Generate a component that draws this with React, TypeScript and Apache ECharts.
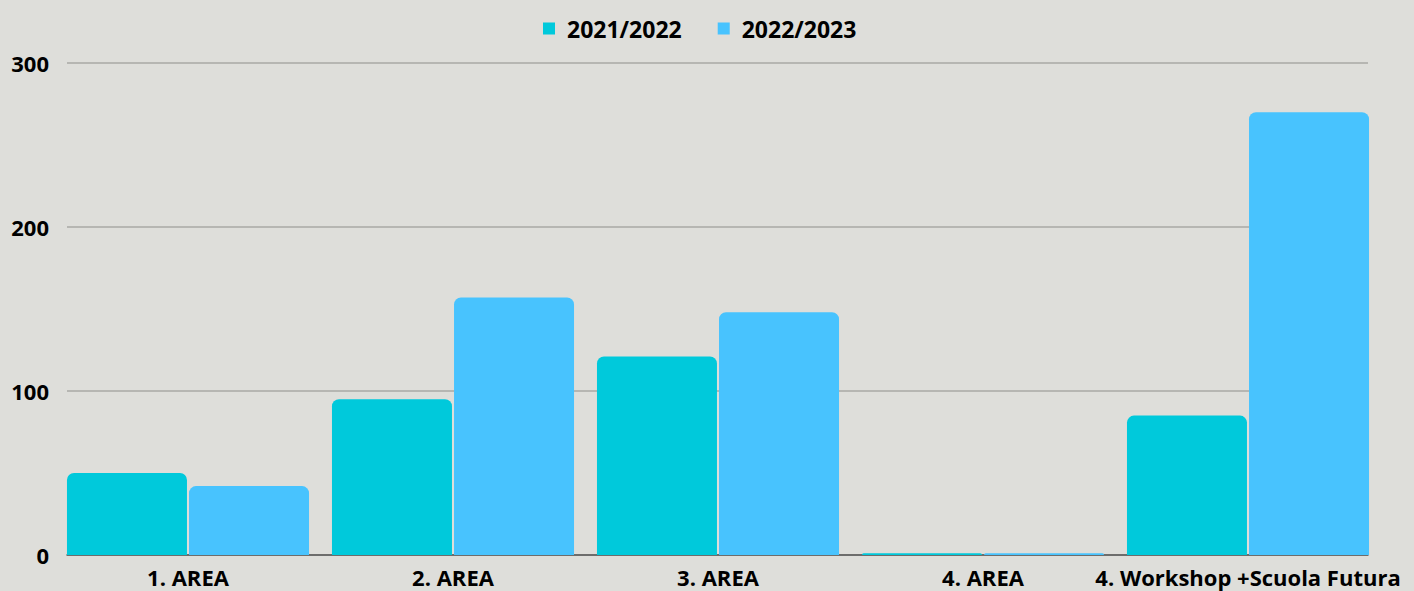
import React, { useEffect, useRef } from "react";
import * as echarts from "echarts";

const categories = ["1. AREA", "2. AREA", "3. AREA", "4. AREA", "4. Workshop +Scuola Futura"];
const seriesNames = ["2021/2022", "2022/2023"];
const values2122 = [50, 95, 121, 1, 85];
const values2223 = [42, 157, 148, 1, 270];
const yTicks = [0, 100, 200, 300];

const colors = ["#00c9db", "#48c3fe"];
const font = "'Open Sans', 'Noto Sans', sans-serif";

export default function App() {
  const ref = useRef<HTMLDivElement>(null);
  useEffect(() => {
    if (!ref.current) return;
    const chart = echarts.init(ref.current, null, { renderer: "svg" });
    const yMax = yTicks[yTicks.length - 1];
    const yInterval = yTicks[1] - yTicks[0];
    chart.setOption({
      animation: false,
      backgroundColor: "#dededa",
      textStyle: { fontFamily: font },
      legend: {
        top: 12,
        left: 538,
        itemWidth: 12,
        itemHeight: 12,
        itemGap: 36,
        icon: "rect",
        textStyle: { fontSize: 23, fontWeight: "bold", color: "#000", fontFamily: font, padding: [0, 0, 0, 7] },
        data: seriesNames,
      },
      grid: [
        { left: 67, right: 46, top: 63, bottom: 36 },
        { left: 55.5, right: 33.5, top: 63, bottom: 36 },
      ],
      xAxis: [
        {
          gridIndex: 0,
          type: "category",
          data: categories,
          axisLine: { show: true, lineStyle: { color: "#555", width: 1.5 } },
          axisTick: { show: false },
          axisLabel: { show: false },
        },
        {
          gridIndex: 1,
          type: "category",
          data: categories,
          axisLine: { show: false },
          axisTick: { show: false },
          axisLabel: {
            color: "#000",
            fontSize: 22,
            lineHeight: 22,
            fontWeight: "bold",
            fontFamily: font,
            margin: 11,
            interval: 0,
          },
        },
      ],
      yAxis: [
        {
          gridIndex: 0,
          type: "value",
          min: 0,
          max: yMax,
          interval: yInterval,
          axisLine: { show: false },
          axisTick: { show: false },
          axisLabel: { color: "#000", fontSize: 22, fontWeight: "bold", fontFamily: font, margin: 18 },
          splitLine: { show: true, lineStyle: { color: "#a8a8a5", width: 1.5 } },
        },
        {
          gridIndex: 1,
          type: "value",
          min: 0,
          max: yMax,
          interval: yInterval,
          show: false,
          splitLine: { show: false },
        },
      ],
      series: [
        {
          name: seriesNames[0],
          type: "bar",
          xAxisIndex: 1,
          yAxisIndex: 1,
          data: values2122,
          barWidth: 120,
          barGap: "1.7%",
          itemStyle: { color: colors[0], borderRadius: [7, 7, 0, 0] },
        },
        {
          name: seriesNames[1],
          type: "bar",
          xAxisIndex: 1,
          yAxisIndex: 1,
          data: values2223,
          barWidth: 120,
          barGap: "1.7%",
          itemStyle: { color: colors[1], borderRadius: [7, 7, 0, 0] },
        },
      ],
    });
    return () => chart.dispose();
  }, []);
  return <div ref={ref} style={{ width: 1414, height: 591, position: "absolute", left: 0, top: 0 }} />;
}
